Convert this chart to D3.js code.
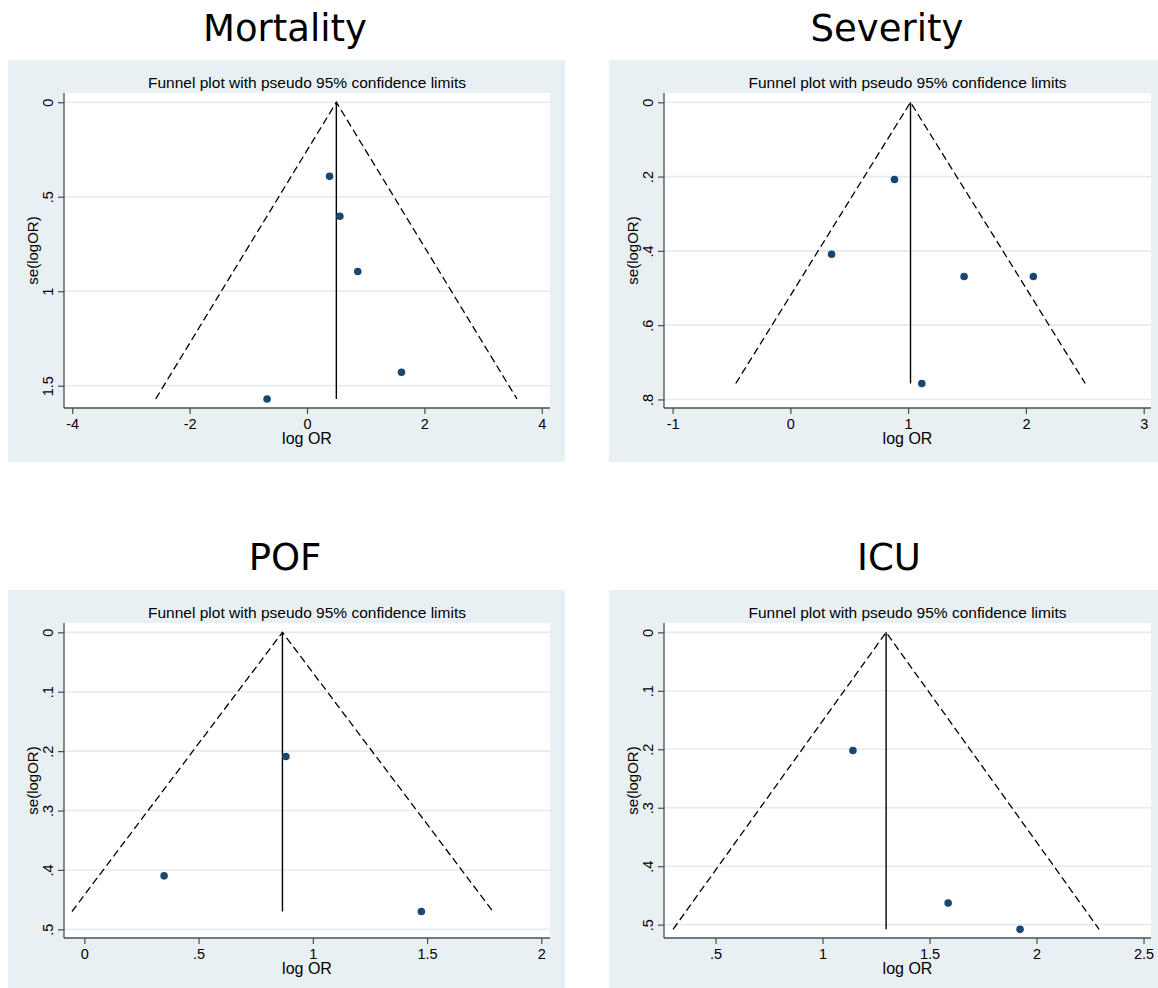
<!DOCTYPE html>
<html>
<head>
<meta charset="utf-8">
<script src="https://cdn.jsdelivr.net/npm/d3@7"></script>
<style>
  body { margin: 0; background: #ffffff; }
  svg { display: block; }
  .tick text { font-family: "Liberation Sans", Arial, sans-serif; fill: #000; }
</style>
</head>
<body>
<svg id="chart" width="1158" height="988"></svg>
<script>
// ---- Data: log odds ratios and their standard errors for each outcome ----
const panelTitles = ["Mortality", "Severity", "POF", "ICU"];

const mortalityLogOR = [0.385, 0.56, 0.865, 1.61, -0.68];
const mortalitySE    = [0.392, 0.603, 0.896, 1.429, 1.570];

const severityLogOR  = [0.884, 0.350, 1.475, 2.063, 1.116];
const severitySE     = [0.208, 0.409, 0.469, 0.469, 0.757];

const pofLogOR       = [0.882, 0.349, 1.475];
const pofSE          = [0.209, 0.410, 0.470];

const icuLogOR       = [1.142, 1.587, 1.923];
const icuSE          = [0.202, 0.463, 0.508];

// pooled (fixed-effect) estimate marking the funnel apex
const pooledLogOR    = [0.50, 1.02, 0.867, 1.297];

// tick values
const mortalityXTicks = [-4, -2, 0, 2, 4];
const mortalityYTicks = [0, 0.5, 1, 1.5];
const severityXTicks  = [-1, 0, 1, 2, 3];
const severityYTicks  = [0, 0.2, 0.4, 0.6, 0.8];
const pofXTicks       = [0, 0.5, 1, 1.5, 2];
const pofYTicks       = [0, 0.1, 0.2, 0.3, 0.4, 0.5];
const icuXTicks       = [0.5, 1, 1.5, 2, 2.5];
const icuYTicks       = [0, 0.1, 0.2, 0.3, 0.4, 0.5];

const plotSubtitle = "Funnel plot with pseudo 95% confidence limits";
const xAxisTitle = "log OR";
const yAxisTitle = "se(logOR)";

// ---- Layout ----
const BG = "#e9f0f3";
const GRID = "#e4ecef";
const AXIS = "#4d4d4d";
const DOT = "#1a476f";

const panels = [
  { title: panelTitles[0], logOR: mortalityLogOR, se: mortalitySE, pooled: pooledLogOR[0],
    xTicks: mortalityXTicks, yTicks: mortalityYTicks,
    xDom: [-4.14, 4.14], yDom: [-0.049, 1.618],
    bg: [8, 60, 565, 462], plot: [64, 93, 550, 408], titleX: 285, titleY: 41 },
  { title: panelTitles[1], logOR: severityLogOR, se: severitySE, pooled: pooledLogOR[1],
    xTicks: severityXTicks, yTicks: severityYTicks,
    xDom: [-1.073, 3.062], yDom: [-0.025, 0.823],
    bg: [609, 60, 1158, 462], plot: [664, 93, 1151, 408], titleX: 887, titleY: 41 },
  { title: panelTitles[2], logOR: pofLogOR, se: pofSE, pooled: pooledLogOR[2],
    xTicks: pofXTicks, yTicks: pofYTicks,
    xDom: [-0.089, 2.038], yDom: [-0.0157, 0.5146],
    bg: [8, 590, 565, 988], plot: [64, 623, 550, 938], titleX: 285, titleY: 570 },
  { title: panelTitles[3], logOR: icuLogOR, se: icuSE, pooled: pooledLogOR[3],
    xTicks: icuXTicks, yTicks: icuYTicks,
    xDom: [0.259, 2.535], yDom: [-0.016, 0.5228],
    bg: [609, 590, 1158, 988], plot: [664, 623, 1151, 938], titleX: 889, titleY: 570 }
];

// Stata-style number labels: ".5" instead of "0.5", plain hyphen for negatives
const stataFmt = v => String(+v.toFixed(3)).replace(/^0\./, ".").replace(/^-0\./, "-.");

const svg = d3.select("#chart");

panels.forEach(p => {
  const g = svg.append("g");
  const [bx0, by0, bx1, by1] = p.bg;
  const [px0, py0, px1, py1] = p.plot;

  // outcome title
  g.append("text")
    .attr("x", p.titleX).attr("y", p.titleY)
    .attr("text-anchor", "middle")
    .style("font-family", "'DejaVu Sans', Verdana, sans-serif")
    .style("font-size", "37px")
    .attr("fill", "#000")
    .text(p.title);

  // graph region and plot region
  g.append("rect").attr("x", bx0).attr("y", by0)
    .attr("width", bx1 - bx0).attr("height", by1 - by0).attr("fill", BG);
  g.append("rect").attr("x", px0).attr("y", py0)
    .attr("width", px1 - px0).attr("height", py1 - py0).attr("fill", "#ffffff");

  const x = d3.scaleLinear().domain(p.xDom).range([px0, px1]);
  const y = d3.scaleLinear().domain(p.yDom).range([py0, py1]);

  // horizontal gridlines
  g.append("g").selectAll("line").data(p.yTicks).join("line")
    .attr("x1", px0).attr("x2", px1)
    .attr("y1", d => y(d)).attr("y2", d => y(d))
    .attr("stroke", GRID).attr("stroke-width", 1.6);

  // subtitle
  g.append("text")
    .attr("x", (px0 + px1) / 2).attr("y", py0 - 5)
    .attr("text-anchor", "middle")
    .style("font-family", "'Liberation Sans', Arial, sans-serif")
    .style("font-size", "15.5px")
    .text(plotSubtitle);

  // pseudo 95% confidence limits
  const maxSE = d3.max(p.se);
  const funnel = [
    [p.pooled - 1.96 * maxSE, maxSE],
    [p.pooled, 0],
    [p.pooled + 1.96 * maxSE, maxSE]
  ];
  const line = d3.line().x(d => x(d[0])).y(d => y(d[1]));
  g.append("path").datum(funnel)
    .attr("d", line)
    .attr("fill", "none").attr("stroke", "#000")
    .attr("stroke-width", 1.3).attr("stroke-dasharray", "7.5,4");

  // pooled estimate line
  g.append("path").datum([[p.pooled, 0], [p.pooled, maxSE]])
    .attr("d", line)
    .attr("fill", "none").attr("stroke", "#000").attr("stroke-width", 1.4);

  // study estimates
  g.append("g").selectAll("circle").data(p.logOR.map((v, i) => [v, p.se[i]])).join("circle")
    .attr("cx", d => x(d[0])).attr("cy", d => y(d[1]))
    .attr("r", 3.8).attr("fill", DOT);

  // y axis
  const yAxis = g.append("g").attr("transform", `translate(${px0},0)`)
    .call(d3.axisLeft(y).tickValues(p.yTicks).tickFormat(stataFmt).tickSize(6).tickSizeOuter(0));
  yAxis.select(".domain").attr("d", `M0,${py0}V${py1}`).attr("stroke", AXIS).attr("stroke-width", 1.3);
  yAxis.selectAll(".tick line").attr("stroke", AXIS).attr("stroke-width", 1.2);
  yAxis.selectAll(".tick text")
    .attr("x", null).attr("dy", null)
    .attr("text-anchor", "middle")
    .attr("transform", "translate(-11.5,0) rotate(-90)")
    .style("font-size", "14.5px");

  // x axis
  const xAxis = g.append("g").attr("transform", `translate(0,${py1})`)
    .call(d3.axisBottom(x).tickValues(p.xTicks).tickFormat(stataFmt).tickSize(6).tickPadding(5).tickSizeOuter(0));
  xAxis.select(".domain").attr("d", `M${px0},0H${px1}`).attr("stroke", AXIS).attr("stroke-width", 1.3);
  xAxis.selectAll(".tick line").attr("stroke", AXIS).attr("stroke-width", 1.2);
  xAxis.selectAll(".tick text").style("font-size", "14.5px");

  // axis titles
  g.append("text")
    .attr("x", (px0 + px1) / 2).attr("y", py1 + 36)
    .attr("text-anchor", "middle")
    .style("font-family", "'Liberation Sans', Arial, sans-serif")
    .style("font-size", "16px")
    .text(xAxisTitle);
  g.append("text")
    .attr("transform", `translate(${px0 - 26},${(py0 + py1) / 2}) rotate(-90)`)
    .attr("text-anchor", "middle")
    .style("font-family", "'Liberation Sans', Arial, sans-serif")
    .style("font-size", "15px")
    .text(yAxisTitle);
});
</script>
</body>
</html>
